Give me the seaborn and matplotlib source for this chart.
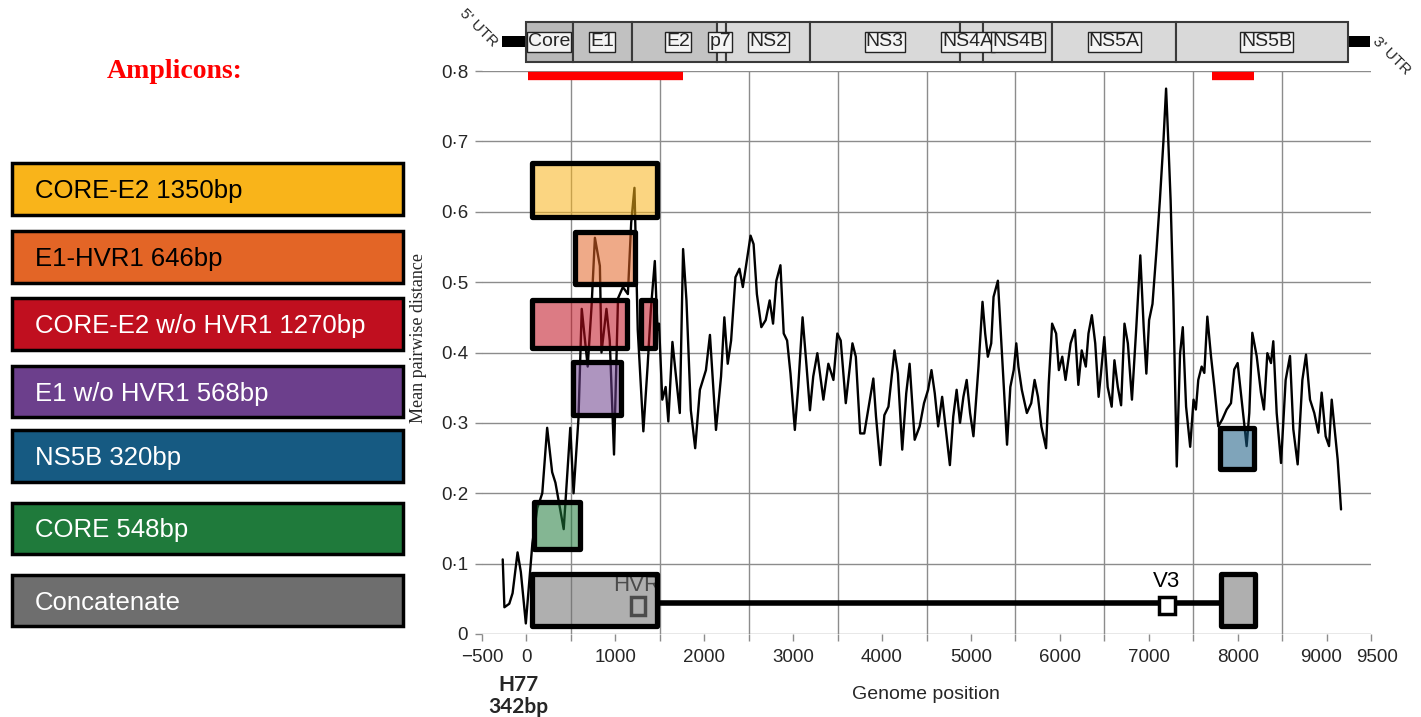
import matplotlib
matplotlib.use('Agg')
import matplotlib.pyplot as plt
from matplotlib.patches import Rectangle
from matplotlib.colors import to_rgba
from matplotlib.ticker import FuncFormatter
from matplotlib.transforms import ScaledTranslation
import numpy as np
import pandas as pd
import seaborn as sns

#%% mean pairwise distance along the genome
genome_pos = [-267, -248, -193, -156, -100, -63, -7, 67, 122, 178, 233, 289, 326, 419, 493, 530, 585,
              622, 689, 733, 770, 826, 844, 900, 937, 985, 1030, 1085, 1141, 1178, 1215, 1252, 1315,
              1363, 1400, 1444, 1474, 1491, 1528, 1566, 1596, 1642, 1679, 1725, 1762, 1800, 1849,
              1898, 1951, 2019, 2064, 2132, 2189, 2226, 2264, 2302, 2351, 2396, 2434, 2479, 2521,
              2555, 2592, 2642, 2691, 2736, 2774, 2811, 2857, 2894, 2932, 2970, 3019, 3057, 3106,
              3151, 3189, 3226, 3272, 3340, 3396, 3453, 3497, 3535, 3592, 3667, 3705, 3754, 3800,
              3856, 3902, 3932, 3981, 4026, 4072, 4140, 4178, 4227, 4272, 4310, 4367, 4423, 4472,
              4518, 4556, 4593, 4631, 4676, 4714, 4763, 4801, 4839, 4877, 4915, 4952, 4990, 5028,
              5085, 5130, 5160, 5190, 5228, 5254, 5303, 5341, 5379, 5406, 5443, 5481, 5510, 5534,
              5572, 5629, 5678, 5716, 5754, 5792, 5845, 5875, 5913, 5958, 5989, 6027, 6064, 6121,
              6170, 6208, 6246, 6292, 6322, 6360, 6398, 6436, 6462, 6500, 6538, 6583, 6614, 6652,
              6689, 6727, 6765, 6811, 6860, 6905, 6943, 6973, 7004, 7042, 7087, 7125, 7165, 7195,
              7220, 7246, 7277, 7315, 7352, 7383, 7420, 7466, 7504, 7530, 7557, 7595, 7625, 7659,
              7700, 7737, 7782, 7827, 7876, 7925, 7962, 8000, 8045, 8101, 8131, 8165, 8214, 8262,
              8296, 8334, 8375, 8401, 8439, 8488, 8540, 8589, 8626, 8675, 8728, 8769, 8814, 8862,
              8908, 8945, 8990, 9028, 9058, 9088, 9125, 9163]
mean_dist = [0.106, 0.038, 0.043, 0.058, 0.116, 0.088, 0.015, 0.129, 0.179, 0.200, 0.293, 0.230, 0.215,
             0.149, 0.293, 0.200, 0.306, 0.462, 0.380, 0.467, 0.563, 0.523, 0.400, 0.462, 0.417, 0.255,
             0.477, 0.493, 0.483, 0.584, 0.634, 0.432, 0.288, 0.381, 0.462, 0.530, 0.432, 0.441, 0.333,
             0.351, 0.302, 0.415, 0.370, 0.314, 0.547, 0.474, 0.318, 0.264, 0.347, 0.375, 0.425, 0.290,
             0.366, 0.450, 0.384, 0.417, 0.507, 0.519, 0.493, 0.531, 0.566, 0.554, 0.483, 0.436, 0.446,
             0.474, 0.441, 0.502, 0.524, 0.427, 0.417, 0.370, 0.290, 0.351, 0.450, 0.380, 0.318, 0.366,
             0.399, 0.333, 0.384, 0.361, 0.427, 0.417, 0.328, 0.413, 0.394, 0.285, 0.285, 0.328, 0.363,
             0.309, 0.240, 0.311, 0.323, 0.403, 0.370, 0.262, 0.342, 0.384, 0.276, 0.295, 0.328, 0.347,
             0.375, 0.342, 0.295, 0.337, 0.295, 0.240, 0.309, 0.347, 0.300, 0.337, 0.361, 0.314, 0.281,
             0.380, 0.472, 0.427, 0.394, 0.413, 0.479, 0.502, 0.417, 0.333, 0.269, 0.351, 0.375, 0.413,
             0.380, 0.347, 0.314, 0.328, 0.361, 0.337, 0.295, 0.264, 0.356, 0.441, 0.427, 0.375, 0.394,
             0.361, 0.413, 0.432, 0.354, 0.403, 0.380, 0.427, 0.453, 0.413, 0.337, 0.370, 0.422, 0.351,
             0.323, 0.389, 0.351, 0.325, 0.441, 0.413, 0.333, 0.436, 0.538, 0.436, 0.370, 0.446, 0.469,
             0.545, 0.616, 0.700, 0.775, 0.700, 0.616, 0.474, 0.238, 0.398, 0.436, 0.323, 0.266, 0.333,
             0.319, 0.361, 0.380, 0.371, 0.451, 0.395, 0.352, 0.295, 0.305, 0.319, 0.328, 0.376, 0.385,
             0.333, 0.267, 0.314, 0.428, 0.395, 0.343, 0.319, 0.399, 0.385, 0.416, 0.314, 0.243, 0.361,
             0.395, 0.291, 0.241, 0.361, 0.397, 0.333, 0.314, 0.286, 0.343, 0.281, 0.267, 0.333, 0.295,
             0.248, 0.177]

#%% amplicons
amp_labels = ['CORE-E2 1350bp', 'E1-HVR1 646bp', 'CORE-E2 w/o HVR1 1270bp', 'E1 w/o HVR1 568bp',
              'NS5B 320bp', 'CORE 548bp', 'Concatenate']
amp_colors = ['#f9b41a', '#e36526', '#c00f1f', '#6c3f8c', '#165a82', '#1f7a3b', '#6e6e6e']
amp_text_colors = ['black', 'black', 'white', 'white', 'white', 'white', 'white']

# boxes drawn on the plot: which amplicon, genome span, distance span
box_amp = [0, 1, 2, 2, 3, 4, 5, 6, 6]
box_start = [59, 548, 67, 1289, 519, 7801, 85, 67, 7808]
box_end = [1467, 1222, 1133, 1444, 1067, 8187, 604, 1474, 8191]
box_low = [0.593, 0.498, 0.407, 0.407, 0.311, 0.234, 0.121, 0.011, 0.011]
box_high = [0.669, 0.571, 0.475, 0.475, 0.387, 0.293, 0.188, 0.085, 0.085]

#%% genome map
gene_names = ['Core', 'E1', 'E2', 'p7', 'NS2', 'NS3', 'NS4A', 'NS4B', 'NS5A', 'NS5B']
gene_start = [0, 524, 1189, 2148, 2249, 3185, 4876, 5135, 5913, 7311]
gene_end = [524, 1189, 2148, 2249, 3185, 4876, 5135, 5913, 7311, 9239]
gene_label_pos = [254, 849, 1708, 2182, 2722, 4030, 4966, 5529, 6611, 8325]
gene_colors = ['#b9b9b9', '#c1c1c1', '#c3c3c3', '#dcdcdc', '#d9d9d9', '#d9d9d9', '#d9d9d9',
               '#d9d9d9', '#d9d9d9', '#d9d9d9']
utr_start = [-276, 9239]
utr_end = [0, 9487]

# red target bars under the map
red_start = [17, 7706]
red_end = [1764, 8180]

xtick_vals = [-500, 0, 1000, 2000, 3000, 4000, 5000, 6000, 7000, 8000, 9000, 9500]

#%% style
sns.set_style('white')
plt.rcParams['font.family'] = ['Liberation Sans', 'DejaVu Sans']

W, H = 1421, 717
fig = plt.figure(figsize=(W / 100, H / 100), dpi=100)

# pixel box of main plot
L, R, T, B = 482, 1371, 71, 634
ax = fig.add_axes([L / W, (H - B) / H, (R - L) / W, (B - T) / H])

df = pd.DataFrame({'pos': genome_pos, 'dist': mean_dist})
sns.lineplot(data=df, x='pos', y='dist', color='black', lw=1.7, sort=False, ax=ax, zorder=3)

ax.set_xlim(-500, 9500)
ax.set_ylim(0, 0.8)
for s in ax.spines.values():
    s.set_visible(False)
ax.set_xticks(xtick_vals)
ax.set_xticklabels([('\u2212' + str(-v)) if v < 0 else str(v) for v in xtick_vals])
ax.set_xticks(np.arange(-500, 9501, 500), minor=True)
ax.set_yticks(np.arange(0, 0.81, 0.1))
ax.yaxis.set_major_formatter(FuncFormatter(lambda v, p: '0' if v < 1e-9 else ('%.1f' % v).replace('.', '\u00b7')))
ax.grid(True, which='minor', axis='x', color='#8c8c8c', lw=1)
ax.grid(True, which='major', axis='y', color='#8c8c8c', lw=1)
ax.tick_params(axis='both', which='both', labelsize=13.5, color='#8c8c8c', length=5, width=1,
               bottom=True, left=True)
ax.tick_params(axis='x', which='minor', length=5)
ax.tick_params(axis='x', pad=6)
ax.tick_params(axis='y', pad=5)

# push the two crowded labels at the right end apart a little
for lab in ax.get_xticklabels():
    if lab.get_text() == '9000':
        lab.set_transform(lab.get_transform() + ScaledTranslation(-5 / 100, 0, fig.dpi_scale_trans))
    if lab.get_text() == '9500':
        lab.set_transform(lab.get_transform() + ScaledTranslation(6 / 100, 0, fig.dpi_scale_trans))

ax.set_xlabel('Genome position', fontsize=14)
ax.xaxis.set_label_coords((926 - L) / (R - L), (B - 686) / (B - T))
ax.set_ylabel('Mean pairwise distance', fontsize=13, family=['Liberation Serif', 'DejaVu Serif'])
ax.yaxis.set_label_coords((427 - L) / (R - L), (B - 338) / (B - T))

# amplicon boxes
for i in range(len(box_amp)):
    c = amp_colors[box_amp[i]]
    ax.add_patch(Rectangle((box_start[i], box_low[i]), box_end[i] - box_start[i], box_high[i] - box_low[i],
                           facecolor=to_rgba(c, 0.55), edgecolor='black', lw=3.8, joinstyle='round',
                           zorder=4))

# concatenate connector, HVR and V3 marks
ax.plot([box_end[7], box_start[8]], [0.044, 0.044], color='black', lw=4, solid_capstyle='butt', zorder=3.5)
ax.add_patch(Rectangle((1180, 0.027), 150, 0.026, facecolor='none', edgecolor='#222222', lw=2.5, zorder=3.8))
ax.text(1242, 0.069, 'HVR', ha='center', va='center', fontsize=16, color='#222222', zorder=3.8)
ax.add_patch(Rectangle((7120, 0.028), 180, 0.025, facecolor='white', edgecolor='black', lw=2.5, zorder=5))
ax.text(7200, 0.074, 'V3', ha='center', va='center', fontsize=16, color='black', zorder=5)

# red bars
for s, e in zip(red_start, red_end):
    ax.plot([s, e], [0.793, 0.793], color='#ff0000', lw=6, solid_capstyle='butt', clip_on=False, zorder=5)

#%% genome map on top
gax = fig.add_axes([L / W, (H - 62) / H, (R - L) / W, 40 / H])
gax.set_xlim(-500, 9500)
gax.set_ylim(0, 1)
gax.axis('off')
for s, e in zip(utr_start, utr_end):
    gax.add_patch(Rectangle((s, 0.37), e - s, 0.27, facecolor='black', edgecolor='none', clip_on=False))
for i in range(len(gene_names)):
    gax.add_patch(Rectangle((gene_start[i], 0), gene_end[i] - gene_start[i], 1, facecolor=gene_colors[i],
                            edgecolor='#3a3a3a', lw=1.5, clip_on=False))
for name, p in zip(gene_names, gene_label_pos):
    gax.text(p, 0.5, name, ha='center', va='center', fontsize=14, zorder=5,
             bbox=dict(boxstyle='square,pad=0.06', fc='#f4f4f4', ec='#222222', lw=1))
gax.text(-535, 0.85, "5' UTR", rotation=-45, ha='center', va='center', fontsize=11, clip_on=False)
gax.text(9735, 0.15, "3' UTR", rotation=-45, ha='center', va='center', fontsize=11, clip_on=False)

#%% left legend panel (pixel coordinates)
bg = fig.add_axes([0, 0, 1, 1], zorder=-1)
bg.set_xlim(0, W)
bg.set_ylim(H, 0)
bg.axis('off')

leg_top = [163, 231, 298, 366, 430, 503, 575]
leg_bot = [215, 283, 350, 417, 482, 554, 626]
for i in range(len(amp_labels)):
    bg.add_patch(Rectangle((12, leg_top[i]), 391, leg_bot[i] - leg_top[i], facecolor=amp_colors[i],
                           edgecolor='black', lw=2.5))
    bg.text(35, (leg_top[i] + leg_bot[i]) / 2 + 2, amp_labels[i], ha='left', va='center', fontsize=18.5,
            color=amp_text_colors[i])

bg.text(175, 72, 'Amplicons:', ha='center', va='center', fontsize=20, fontweight='bold', color='#ff0000',
        family=['Liberation Serif', 'DejaVu Serif'])
bg.text(518, 685, 'H77', ha='center', va='center', fontsize=15, fontweight='bold', family=['Lato', 'DejaVu Sans'])
bg.text(518, 707, '342bp', ha='center', va='center', fontsize=15, fontweight='bold', family=['Lato', 'DejaVu Sans'])

fig.savefig('out.png', dpi=100)
